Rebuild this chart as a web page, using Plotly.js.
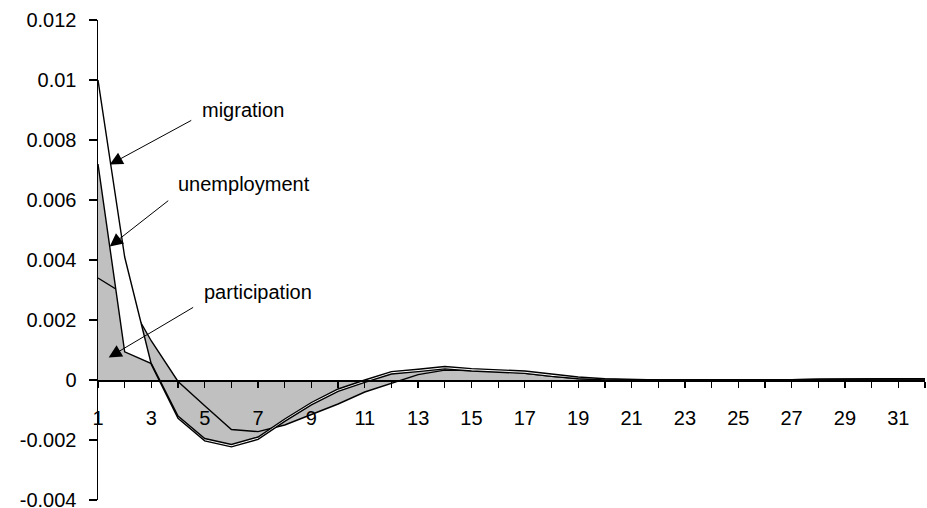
<!DOCTYPE html>
<html>
<head>
<meta charset="utf-8">
<script src="https://cdn.plot.ly/plotly-3.0.1.min.js"></script>
<style>
html,body{margin:0;padding:0;background:#ffffff;}
#chart{width:927px;height:508px;}
</style>
</head>
<body>
<div id="chart"></div>
<script>
// periods after the shock
const periods = [1,2,3,4,5,6,7,8,9,10,11,12,13,14,15,16,17,18,19,20,21,22,23,24,25,26,27,28,29,30,31,32];

// stacked series (Excel stacked area): participation at the bottom, then unemployment, then migration
const participation = [0.0034, 0.00285, 0.0013, -0.00005, -0.00086, -0.00165, -0.00172, -0.0015, -0.00115, -0.0008,
  -0.0004, -0.0001, 0.00018, 0.00033, 0.00032, 0.0003, 0.00022, 0.00012, 0.00005, 0.00002,
  0, 0, 0, 0, 0, 0, 0, 0, 0, 0, 0, 0];
const unemployment = [0.0038, -0.00191, -0.00075, -0.00115, -0.00109, -0.0005, -0.00018, 0.0002, 0.0004, 0.0005,
  0.0004, 0.00038, 0.00018, 0.00012, 0.00006, 0.00003, 0.00008, 0.00008, 0.00005, 0.00002,
  0.00001, 0, 0, 0, 0, 0, 0.00001, 0.00003, 0.00004, 0.00004, 0.00004, 0.00004];
const migration = [0.0028, 0.00316, -0.00003, -0.00008, -0.00008, -0.00008, -0.00008, -0.00008, -0.00008, -0.00008,
  -0.00008, -0.00008, -0.00008, -0.00008, -0.00008, -0.00008, -0.00008, -0.00008, -0.00006, -0.00004,
  -0.00001, 0, 0, 0, 0, 0, 0, 0, 0, 0, 0, 0];

const xTickLabels = ['1','','3','','5','','7','','9','','11','','13','','15','','17','','19','','21','','23','','25','','27','','29','','31',''];
const yTickValues = [0.012, 0.01, 0.008, 0.006, 0.004, 0.002, 0, -0.002, -0.004];
const yTickLabels = ['0.012','0.01','0.008','0.006','0.004','0.002','0','-0.002','-0.004'];

const seriesNames = ['participation', 'unemployment', 'migration'];
const seriesFills = ['#C0C0C0', '#C0C0C0', '#FFFFFF'];
const seriesValues = [participation, unemployment, migration];

const FONT = 'Liberation Sans, Arial, sans-serif';

const traces = seriesValues.map((vals, i) => ({
  type: 'scatter',
  mode: 'lines',
  x: periods,
  y: vals,
  name: seriesNames[i],
  stackgroup: 'one',
  fillcolor: seriesFills[i],
  line: {color: '#000000', width: 1.4, shape: 'linear'},
  hoverinfo: 'skip',
  showlegend: false
}));

// label texts and where their arrows point
const labelTexts = ['migration', 'unemployment', 'participation'];
const labelX = [4.81, 3.91, 4.89];
const labelY = [0.0090, 0.00652, 0.00292];
const arrowTipX = [1.44, 1.44, 1.40];
const arrowTipY = [0.00718, 0.00445, 0.00075];
const arrowTailDX = [83, 60, 86];
const arrowTailDY = [-45, -47, -51];

const annotations = [];
labelTexts.forEach((t, i) => {
  annotations.push({
    x: labelX[i], y: labelY[i], xref: 'x', yref: 'y',
    text: t, showarrow: false, xanchor: 'left', yanchor: 'middle',
    font: {family: FONT, size: 20, color: '#000000'}
  });
  annotations.push({
    x: arrowTipX[i], y: arrowTipY[i], xref: 'x', yref: 'y',
    text: '', showarrow: true, ax: arrowTailDX[i], ay: arrowTailDY[i],
    arrowhead: 2, arrowsize: 2.6, arrowwidth: 1, arrowcolor: '#000000', standoff: 0
  });
});

const layout = {
  width: 927,
  height: 508,
  margin: {l: 98, r: 2, t: 20, b: 8, pad: 0},
  paper_bgcolor: '#ffffff',
  plot_bgcolor: '#ffffff',
  showlegend: false,
  font: {family: FONT, size: 20, color: '#000000'},
  xaxis: {
    range: [1, 32],
    anchor: 'free',
    position: 0.25,
    showline: true, linecolor: '#000000', linewidth: 1.6,
    ticks: 'outside', ticklen: 6, tickwidth: 1.3, tickcolor: '#000000',
    tickvals: periods, ticktext: xTickLabels,
    ticklabelstandoff: 13,
    ticklabeloverflow: 'allow',
    showgrid: false, zeroline: false,
    tickfont: {family: FONT, size: 20, color: '#000000'},
    layer: 'above traces'
  },
  yaxis: {
    range: [-0.004, 0.012],
    showline: true, linecolor: '#000000', linewidth: 1.5,
    ticks: 'outside', ticklen: 8, tickwidth: 1.3, tickcolor: '#000000',
    tickvals: yTickValues, ticktext: yTickLabels,
    ticklabelstandoff: 8,
    ticklabeloverflow: 'allow',
    showgrid: false, zeroline: false,
    tickfont: {family: FONT, size: 20, color: '#000000'}
  },
  annotations: annotations
};

Plotly.newPlot('chart', traces, layout, {staticPlot: true, displayModeBar: false});
</script>
</body>
</html>
